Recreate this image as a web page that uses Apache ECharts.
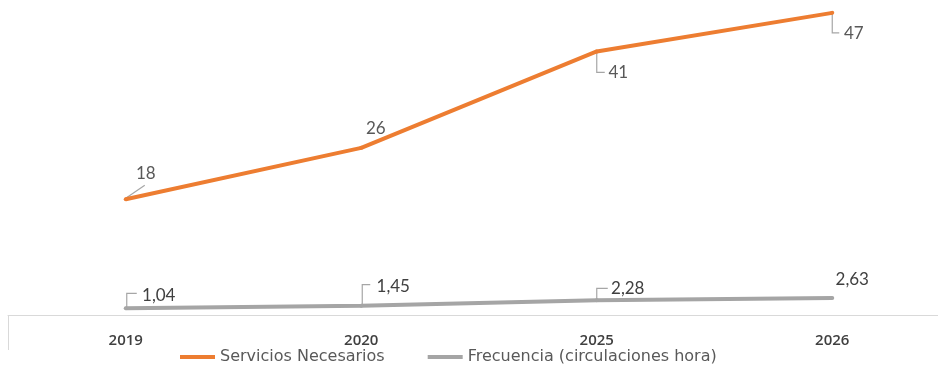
<!DOCTYPE html>
<html>
<head>
<meta charset="utf-8">
<script src="https://cdn.jsdelivr.net/npm/echarts@6/dist/echarts.min.js"></script>
<style>
    html, body { margin: 0; padding: 0; background: #ffffff; overflow: hidden; }
    #chart { width: 950px; height: 369px; }
</style>
</head>
<body>
<div id="chart"></div>
<script>
var years = ['2019', '2020', '2025', '2026'];
var servicios = [18, 26, 41, 47];
var frecuencia = [1.04, 1.45, 2.28, 2.63];
var seriesNames = ['Servicios Necesarios', 'Frecuencia (circulaciones hora)'];

// desplazamiento de las etiquetas respecto al punto (px)
var serviciosOffsets = [[20, -26], [14.5, -19.5], [21.5, 21], [21.5, 21]];
var frecuenciaOffsets = [[33, -13], [32, -19], [31, -12], [20, -19]];
// lineas guia de las etiquetas, relativas al punto (px)
var serviciosGuides = [
    [[0, -1], [19, -14]],
    [[2, 0], [13, -6]],
    [[0, 0], [0, 21], [8, 21]],
    [[0, 0], [0, 20], [7, 20]]
];
var frecuenciaGuides = [
    [[1, 0], [1, -15], [11, -15]],
    [[1, 0], [1, -21], [9, -21]],
    [[0, 0], [0, -12], [11, -12]],
    []
];

function buildData(values, offsets) {
    var out = [];
    for (var i = 0; i < values.length; i++) {
        out.push({value: values[i], label: {offset: offsets[i]}});
    }
    return out;
}

function guideSeries(values, guides) {
    var data = [];
    for (var i = 0; i < values.length; i++) {
        data.push([i, values[i]]);
    }
    return {
        type: 'custom',
        coordinateSystem: 'cartesian2d',
        silent: true,
        z: 1,
        data: data,
        renderItem: function (params, api) {
            var pt = api.coord([api.value(0), api.value(1)]);
            var rel = guides[params.dataIndex];
            if (!rel.length) {
                return null;
            }
            var pts = [];
            for (var k = 0; k < rel.length; k++) {
                pts.push([pt[0] + rel[k][0], pt[1] + rel[k][1]]);
            }
            return {
                type: 'polyline',
                shape: {points: pts},
                style: {stroke: '#a6a6a6', lineWidth: 1.2, fill: null}
            };
        }
    };
}

function fmt(v) {
    return String(v).replace('.', ',');
}

var chart = echarts.init(document.getElementById('chart'));
var labelFont = 'Lato, "Liberation Sans", sans-serif';

var option = {
    animation: false,
    // el eje sigue mas alla del borde derecho (grafico recortado)
    grid: {left: 8, right: 0, top: 0, bottom: 54, containLabel: false},
    legend: {
        data: seriesNames,
        left: 180,
        top: 347,
        padding: 0,
        icon: 'rect',
        itemWidth: 35,
        itemHeight: 4,
        itemGap: 43,
        textStyle: {fontFamily: '"DejaVu Sans", sans-serif', fontSize: 16, color: '#595959', lineHeight: 20}
    },
    xAxis: {
        type: 'category',
        data: years,
        boundaryGap: true,
        axisLine: {lineStyle: {color: '#d9d9d9', width: 1}},
        axisTick: {
            show: true,
            length: 35,
            interval: function (index) { return index === 0; },
            lineStyle: {color: '#d9d9d9'}
        },
        axisLabel: {
            margin: 18,
            fontFamily: '"Open Sans", sans-serif',
            fontSize: 15,
            fontWeight: 600,
            color: '#404040'
        }
    },
    yAxis: {
        type: 'value',
        min: 0,
        max: 49,
        show: false,
        splitLine: {show: false}
    },
    series: [
        guideSeries(servicios, serviciosGuides),
        guideSeries(frecuencia, frecuenciaGuides),
        {
            name: seriesNames[0],
            type: 'line',
            z: 3,
            data: buildData(servicios, serviciosOffsets),
            symbol: 'circle',
            symbolSize: 4,
            color: '#ed7d31',
            lineStyle: {width: 4, color: '#ed7d31'},
            label: {
                show: true,
                position: 'inside',
                fontFamily: labelFont,
                fontSize: 17,
                color: '#595959',
                formatter: function (p) { return fmt(p.value); }
            }
        }, {
            name: seriesNames[1],
            type: 'line',
            z: 3,
            data: buildData(frecuencia, frecuenciaOffsets),
            symbol: 'circle',
            symbolSize: 4,
            color: '#a5a5a5',
            lineStyle: {width: 4, color: '#a5a5a5'},
            label: {
                show: true,
                position: 'inside',
                fontFamily: labelFont,
                fontSize: 17,
                color: '#404040',
                formatter: function (p) { return fmt(p.value); }
            }
        }
    ]
};
chart.setOption(option);
</script>
</body>
</html>
